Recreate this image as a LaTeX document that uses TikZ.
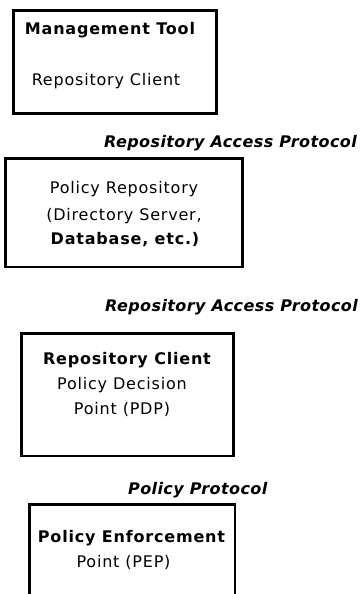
\documentclass[tikz,border=0pt]{standalone}
\usepackage{fontspec}
\setmainfont{DejaVu Sans}
% widely tracked sans for box texts and protocol labels
\newfontfamily\boxfont[LetterSpace=5]{DejaVu Sans}
\newfontfamily\labelfont[LetterSpace=2.5]{DejaVu Sans}

\tikzset{
  box/.style={draw, line width=2.4pt, inner sep=0pt},
  txt/.style={anchor=base, inner sep=0pt, font=\boxfont\fontsize{16}{19}\selectfont},
  txtb/.style={anchor=base, inner sep=0pt, font=\boxfont\bfseries\fontsize{16}{19}\selectfont},
  proto/.style={anchor=base west, inner sep=0pt, font=\labelfont\bfseries\itshape\fontsize{16}{19}\selectfont}
}

\begin{document}
\begin{tikzpicture}[x=1pt, y=-1pt]
  \useasboundingbox (0,0) rectangle (360,594);
  \clip (0,0) rectangle (360,594);

  % management tool
  \node[box, minimum width=203pt, minimum height=103pt] (mgmt) at (115,62) {};
  \node[txtb] (mgmtA) at (110,35) {Management Tool};
  \node[txt]  (mgmtB) at (106,85) {Repository Client};

  \node[proto] (rap1) at (104,147) {Repository Access Protocol};

  % policy repository
  \node[box, minimum width=237pt, minimum height=108.5pt] (repo) at (124,212.75) {};
  \node[txt]  (repoA) at (124,193) {Policy Repository};
  \node[txt]  (repoB) at (124,220) {(Directory Server,};
  \node[txtb] (repoC) at (125,244) {Database, etc.)};

  \node[proto] (rap2) at (105,311) {Repository Access Protocol};

  % policy decision point
  \node[box, minimum width=212pt, minimum height=122.5pt] (pdp) at (127.5,394.75) {};
  \node[txtb] (pdpA) at (127,364) {Repository Client};
  \node[txt]  (pdpB) at (122,389) {Policy Decision};
  \node[txt]  (pdpC) at (122,414) {Point (PDP)};

  \node[proto] (pp) at (128,494) {Policy Protocol};

  % policy enforcement point (runs past the lower edge)
  \node[box, minimum width=205.5pt, minimum height=120pt] (pep) at (132.25,564.5) {};
  \node[txtb] (pepA) at (131.5,542) {Policy Enforcement};
  \node[txt]  (pepB) at (123.5,567) {Point (PEP)};
\end{tikzpicture}
\end{document}
